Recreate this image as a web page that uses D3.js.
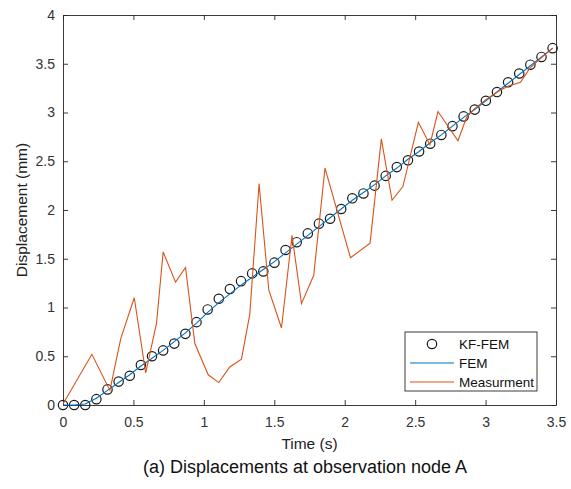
<!DOCTYPE html>
<html>
<head>
<meta charset="utf-8">
<script src="https://cdn.jsdelivr.net/npm/d3@7"></script>
<style>
  body { margin: 0; background: #fff; }
  svg { font-family: "Liberation Sans", Arial, sans-serif; }
</style>
</head>
<body>
<div id="chart"></div>
<script>
// KF-FEM estimate and FEM result, sampled every 0.079 s
const kfTime = [0, 0.079, 0.158, 0.237, 0.316, 0.395, 0.474, 0.553, 0.632, 0.711,
  0.79, 0.869, 0.948, 1.027, 1.106, 1.185, 1.264, 1.343, 1.422, 1.501,
  1.58, 1.659, 1.738, 1.817, 1.896, 1.975, 2.054, 2.133, 2.212, 2.291,
  2.37, 2.449, 2.528, 2.607, 2.686, 2.765, 2.844, 2.923, 3.002, 3.081,
  3.16, 3.239, 3.318, 3.397, 3.476];
const kfFem = [0.00, 0.00, 0.00, 0.06, 0.16, 0.24, 0.30, 0.41, 0.50, 0.56,
  0.63, 0.73, 0.85, 0.98, 1.09, 1.19, 1.27, 1.35, 1.37, 1.46,
  1.59, 1.67, 1.76, 1.86, 1.91, 2.01, 2.12, 2.17, 2.25, 2.35,
  2.44, 2.51, 2.60, 2.68, 2.77, 2.86, 2.96, 3.03, 3.12, 3.21,
  3.31, 3.40, 3.49, 3.57, 3.66];
const fem = [0.00, 0.00, 0.01, 0.07, 0.15, 0.23, 0.31, 0.40, 0.48, 0.56,
  0.65, 0.74, 0.84, 0.95, 1.05, 1.14, 1.23, 1.31, 1.39, 1.47,
  1.56, 1.65, 1.74, 1.83, 1.92, 2.01, 2.10, 2.18, 2.26, 2.35,
  2.43, 2.52, 2.60, 2.69, 2.77, 2.86, 2.95, 3.03, 3.12, 3.21,
  3.30, 3.39, 3.48, 3.57, 3.66];

// measurement (noisy)
const measTime = [0, 0.205, 0.333, 0.41, 0.506, 0.587, 0.664, 0.711, 0.799, 0.87,
  0.936, 1.031, 1.106, 1.184, 1.267, 1.326, 1.392, 1.461, 1.551, 1.626,
  1.693, 1.78, 1.86, 2.041, 2.18, 2.26, 2.336, 2.413, 2.523, 2.605,
  2.662, 2.804, 2.865, 2.922, 3.0, 3.082, 3.158, 3.248, 3.312, 3.395, 3.477];
const meas = [0.01, 0.52, 0.15, 0.68, 1.10, 0.33, 0.84, 1.57, 1.26, 1.41,
  0.63, 0.31, 0.23, 0.39, 0.47, 0.93, 2.27, 1.18, 0.79, 1.74,
  1.04, 1.33, 2.43, 1.51, 1.66, 2.73, 2.10, 2.24, 2.90, 2.67,
  3.01, 2.71, 2.95, 3.04, 3.13, 3.21, 3.27, 3.31, 3.45, 3.56, 3.66];

const xTicks = [0, 0.5, 1, 1.5, 2, 2.5, 3, 3.5];
const yTicks = [0, 0.5, 1, 1.5, 2, 2.5, 3, 3.5, 4];
const seriesNames = ["KF-FEM", "FEM", "Measurment"];

const W = 571, H = 489;
const margin = { top: 15, right: 15, bottom: 84, left: 63 };
const width = W - margin.left - margin.right;
const height = H - margin.top - margin.bottom;
const axisColor = "#262626";
const blue = "#0072BD", orange = "#D95319";

const svg = d3.select("#chart").append("svg")
  .attr("width", W)
  .attr("height", H);

const g = svg.append("g")
  .attr("transform", `translate(${margin.left},${margin.top})`);

const x = d3.scaleLinear().domain([0, 3.5]).range([0, width]);
const y = d3.scaleLinear().domain([0, 4]).range([height, 0]);

const fmt = d => d3.format("~g")(d);

// axes (ticks inward, box on all sides)
function styleAxis(sel) {
  sel.selectAll("path").attr("stroke", axisColor).attr("stroke-width", 0.9);
  sel.selectAll("line").attr("stroke", axisColor).attr("stroke-width", 0.9);
  sel.selectAll("text").attr("fill", "#333").style("font-size", "14px");
}

g.append("g")
  .attr("transform", `translate(0,${height})`)
  .call(d3.axisBottom(x).tickValues(xTicks).tickFormat(fmt).tickSizeInner(-5).tickSizeOuter(0).tickPadding(12))
  .call(styleAxis);

g.append("g")
  .call(d3.axisTop(x).tickValues(xTicks).tickFormat("").tickSizeInner(-5).tickSizeOuter(0))
  .call(styleAxis);

g.append("g")
  .call(d3.axisLeft(y).tickValues(yTicks).tickFormat(fmt).tickSizeInner(-5).tickSizeOuter(0).tickPadding(8))
  .call(styleAxis);

g.append("g")
  .attr("transform", `translate(${width},0)`)
  .call(d3.axisRight(y).tickValues(yTicks).tickFormat("").tickSizeInner(-5).tickSizeOuter(0))
  .call(styleAxis);

// axis labels
g.append("text")
  .attr("x", width / 2)
  .attr("y", height + 44)
  .attr("text-anchor", "middle")
  .attr("fill", "#222")
  .style("font-size", "15.5px")
  .text("Time (s)");

g.append("text")
  .attr("transform", "rotate(-90)")
  .attr("x", -height / 2)
  .attr("y", -36)
  .attr("text-anchor", "middle")
  .attr("fill", "#222")
  .style("font-size", "15.5px")
  .text("Displacement (mm)");

// caption
svg.append("text")
  .attr("x", 305)
  .attr("y", 473)
  .attr("text-anchor", "middle")
  .attr("fill", "#111")
  .style("font-size", "18px")
  .text("(a) Displacements at observation node A");

// KF-FEM circles
const kfData = kfTime.map((t, i) => ({ t: t, v: kfFem[i] }));
g.selectAll(".kf")
  .data(kfData)
  .enter()
  .append("circle")
  .attr("class", "kf")
  .attr("cx", d => x(d.t))
  .attr("cy", d => y(d.v))
  .attr("r", 4.7)
  .attr("fill", "none")
  .attr("stroke", "#1a1a1a")
  .attr("stroke-width", 1.2);

// FEM line
const line = d3.line().x(d => x(d.t)).y(d => y(d.v));
g.append("path")
  .datum(kfTime.map((t, i) => ({ t: t, v: fem[i] })))
  .attr("d", line)
  .attr("fill", "none")
  .attr("stroke", blue)
  .attr("stroke-width", 1.1);

// Measurement line
g.append("path")
  .datum(measTime.map((t, i) => ({ t: t, v: meas[i] })))
  .attr("d", line)
  .attr("fill", "none")
  .attr("stroke", orange)
  .attr("stroke-width", 1.1);

// legend
const legend = svg.append("g").attr("transform", "translate(405,332)");
legend.append("rect")
  .attr("width", 132)
  .attr("height", 59)
  .attr("fill", "#fff")
  .attr("stroke", axisColor)
  .attr("stroke-width", 0.9);

seriesNames.forEach((name, i) => {
  const row = legend.append("g").attr("transform", `translate(0,${12 + i * 19})`);
  if (i === 0) {
    row.append("circle")
      .attr("cx", 27)
      .attr("cy", 0)
      .attr("r", 4.7)
      .attr("fill", "none")
      .attr("stroke", "#1a1a1a")
      .attr("stroke-width", 1.2);
  } else {
    row.append("line")
      .attr("x1", 5).attr("x2", 49)
      .attr("y1", 0).attr("y2", 0)
      .attr("stroke", i === 1 ? blue : orange)
      .attr("stroke-width", 1.1);
  }
  row.append("text")
    .attr("x", 54)
    .attr("y", 0)
    .attr("dy", "0.35em")
    .attr("fill", "#111")
    .style("font-size", "13.5px")
    .text(name);
});
</script>
</body>
</html>
